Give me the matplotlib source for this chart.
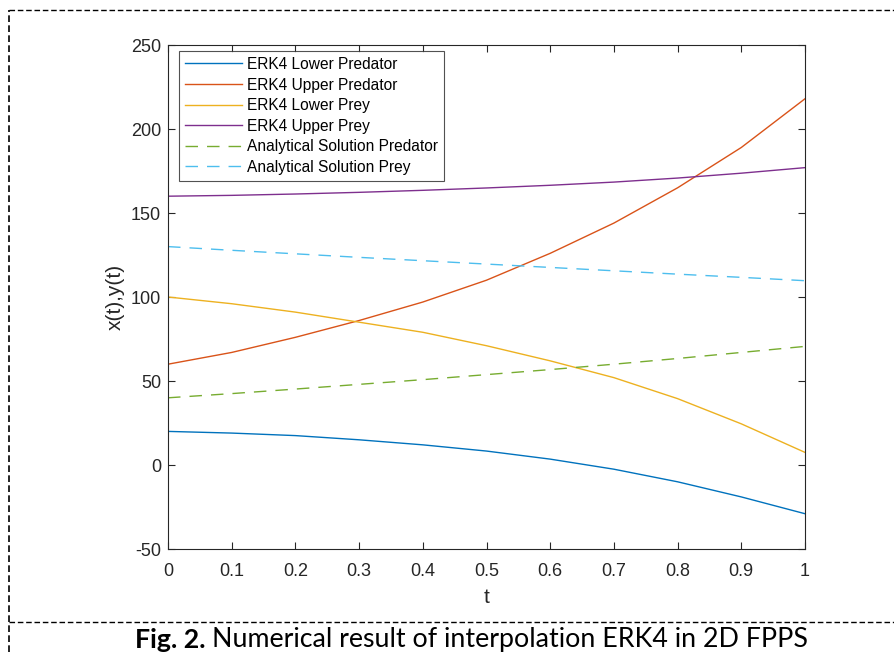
import matplotlib
matplotlib.use("Agg")
import matplotlib.pyplot as plt
from matplotlib.lines import Line2D

# data
t = [0.0, 0.1, 0.2, 0.3, 0.4, 0.5, 0.6, 0.7, 0.8, 0.9, 1.0]
lower_predator = [20, 19, 17.5, 15, 12, 8.3, 3.5, -2.5, -10, -19, -29]
upper_predator = [60, 67, 76, 86, 97, 110, 126, 144, 165, 189, 218]
lower_prey = [100, 96, 91, 85, 79, 71, 62, 52, 39.5, 24.5, 7.5]
upper_prey = [160, 160.5, 161.3, 162.3, 163.5, 164.9, 166.5, 168.4, 170.8, 173.7, 177]
exact_predator = [40, 42.5, 45.2, 48, 50.8, 53.8, 56.8, 60, 63.4, 67, 70.6]
exact_prey = [130, 127.8, 125.7, 123.6, 121.6, 119.6, 117.6, 115.6, 113.6, 111.7, 109.7]

labels = ["ERK4 Lower Predator", "ERK4 Upper Predator", "ERK4 Lower Prey",
          "ERK4 Upper Prey", "Analytical Solution Predator", "Analytical Solution Prey"]
xtick_labels = ["0", "0.1", "0.2", "0.3", "0.4", "0.5", "0.6", "0.7", "0.8", "0.9", "1"]
yticks = [-50, 0, 50, 100, 150, 200, 250]

plt.rcParams["font.family"] = ["Liberation Sans", "DejaVu Sans"]
plt.rcParams["axes.unicode_minus"] = False

W, H = 894, 652
fig = plt.figure(figsize=(W / 100, H / 100), dpi=100)
ax = fig.add_axes([168 / W, 1 - 549 / H, 637 / W, 504 / H])

dash = (0, (9, 6.5))
ax.plot(t, lower_predator, color="#0072BD", lw=1.0, label=labels[0])
ax.plot(t, upper_predator, color="#D95319", lw=1.0, label=labels[1])
ax.plot(t, lower_prey, color="#EDB120", lw=1.0, label=labels[2])
ax.plot(t, upper_prey, color="#7E2F8E", lw=1.0, label=labels[3])
ax.plot(t, exact_predator, color="#77AC30", lw=1.0, ls=dash, label=labels[4])
ax.plot(t, exact_prey, color="#4DBEEE", lw=1.0, ls=dash, label=labels[5])

ax.set_xlim(0, 1)
ax.set_ylim(-50, 250)
ax.set_xticks(t)
ax.set_xticklabels(xtick_labels)
ax.set_yticks(yticks)
ax.tick_params(direction="in", top=True, right=True, length=5, width=0.8,
               labelsize=13, colors="#262626", pad=5)
ax.tick_params(axis="x", pad=10)
for s in ax.spines.values():
    s.set_color("#262626")
    s.set_linewidth(0.8)

ax.set_xlabel("t", fontsize=15, color="#262626", labelpad=6)
ax.set_ylabel("x(t),y(t)", fontsize=15, color="#262626", labelpad=4)

leg = ax.legend(loc="upper left", bbox_to_anchor=(11 / 637, 1 - 6 / 504),
                borderaxespad=0, fontsize=11.2, frameon=True, fancybox=False,
                handlelength=3.7, handletextpad=0.3, borderpad=0.38,
                labelspacing=0.36)
leg.get_frame().set_edgecolor("#262626")
leg.get_frame().set_linewidth(0.8)

# dashed frame of the figure box
fig.add_artist(Line2D([9 / W, 1.0], [1 - 10 / H, 1 - 10 / H], color="black",
                      lw=1.0, ls=(0, (4, 2)), transform=fig.transFigure))
fig.add_artist(Line2D([9 / W, 9 / W], [0, 1 - 10 / H], color="black",
                      lw=1.2, ls=(0, (4, 2)), transform=fig.transFigure))
fig.add_artist(Line2D([9 / W, 1.0], [1 - 622 / H, 1 - 622 / H], color="black",
                      lw=1.0, ls=(0, (4, 2)), transform=fig.transFigure))

# caption: bold part then normal part
cap_font = ["Lato", "DejaVu Sans"]
cap_y = 1 - 640 / H
bold = fig.text(135 / W, cap_y, "Fig. 2.", fontsize=19.3, fontweight="bold",
                family=cap_font, va="center", ha="left")
fig.canvas.draw()
bb = bold.get_window_extent()
fig.text(bb.x1 / W + 6 / W, cap_y, "Numerical result of interpolation ERK4 in 2D FPPS",
         fontsize=19.3, family=cap_font, va="center", ha="left")

fig.savefig("out.png", dpi=100)
